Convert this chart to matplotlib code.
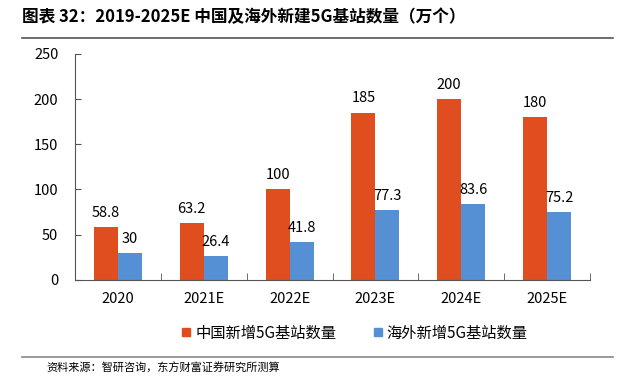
import numpy as np
import matplotlib
matplotlib.use("Agg")
import matplotlib.pyplot as plt
from matplotlib.lines import Line2D

plt.rcParams['font.family'] = ['Noto Sans CJK SC', 'DejaVu Sans']

# データ
years = ['2020', '2021E', '2022E', '2023E', '2024E', '2025E']
china = [58.8, 63.2, 100, 185, 200, 180]
overseas = [30, 26.4, 41.8, 77.3, 83.6, 75.2]
china_labels = ['58.8', '63.2', '100', '185', '200', '180']
overseas_labels = ['30', '26.4', '41.8', '77.3', '83.6', '75.2']

c_china = '#E04E1F'
c_over = '#5590D5'

fig = plt.figure(figsize=(6.25, 3.85), dpi=100)
ax = fig.add_axes([0.12, 0.273, 0.824, 0.587])

x = np.arange(len(years))
w = 0.28
ax.bar(x - w / 2, china, width=w, color=c_china)
ax.bar(x + w / 2, overseas, width=w, color=c_over)

for i in range(len(years)):
    ax.text(x[i] - w / 2, china[i] + 8, china_labels[i], ha='center', va='bottom', fontsize=10.5)
    ax.text(x[i] + w / 2, overseas[i] + 8, overseas_labels[i], ha='center', va='bottom', fontsize=10.5)

ax.set_xlim(-0.5, len(years) - 0.5)
ax.set_ylim(0, 250)
ax.set_yticks(range(0, 251, 50))
ax.set_xticks(x)
ax.set_xticklabels(years, fontsize=10.5)
ax.set_xticks(np.arange(-0.5, len(years), 1), minor=True)
ax.tick_params(axis='x', which='major', length=0, pad=9)
ax.tick_params(axis='x', which='minor', length=5, direction='in', color='#555555')
ax.tick_params(axis='y', labelsize=10.5, length=4, direction='in', color='#555555', pad=12)
for s in ['top', 'right']:
    ax.spines[s].set_visible(False)
ax.spines['left'].set_color('#555555')
ax.spines['bottom'].set_color('#555555')

# 凡例
handles = [Line2D([], [], marker='s', linestyle='', color=c_china, markersize=6),
           Line2D([], [], marker='s', linestyle='', color=c_over, markersize=6)]
fig.legend(handles, ['中国新增5G基站数量', '海外新增5G基站数量'], loc='center',
           bbox_to_anchor=(0.565, 0.135), ncol=2, frameon=False, fontsize=11,
           handletextpad=0.1, columnspacing=2.2, handlelength=1.0)

# タイトル、線、出典
fig.text(0.035, 0.955, '图表 32：2019-2025E 中国及海外新建5G基站数量（万个）', fontsize=12,
         fontweight='bold', va='center', ha='left')
fig.add_artist(Line2D([0.035, 0.98], [0.902, 0.902], color='#555555', linewidth=1.2))
fig.add_artist(Line2D([0.035, 0.98], [0.073, 0.073], color='#888888', linewidth=1.2))
fig.text(0.075, 0.043, '资料来源：智研咨询，东方财富证券研究所测算', fontsize=8, va='center', ha='left')

fig.savefig('out.png', dpi=100)
